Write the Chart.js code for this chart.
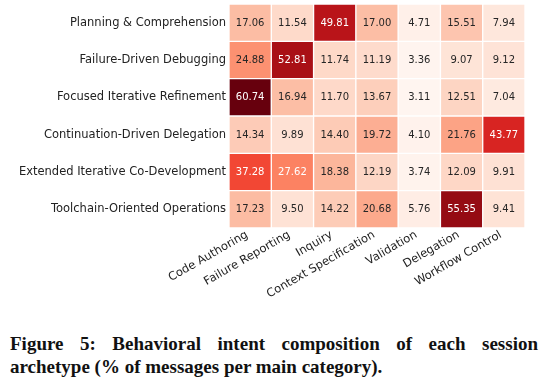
<!DOCTYPE html>
<html>
<head>
<meta charset="utf-8">
<script src="https://cdn.jsdelivr.net/npm/chart.js@4.4.0/dist/chart.umd.min.js"></script>
<style>
  body { margin: 0; background: #fff; width: 548px; height: 386px; overflow: hidden; }
  #wrap { position: relative; width: 548px; height: 322px; }
  .cap { font-family: "Liberation Serif", serif; font-weight: bold; font-size: 19px; color: #111;
         margin: 0 10px; line-height: 23px; white-space: nowrap; }
  .cap1 { margin-top: 10px; text-align: justify; text-align-last: justify; }
</style>
</head>
<body>
<div id="wrap"><canvas id="heat" width="548" height="322"></canvas></div>
<div class="cap cap1">Figure 5: Behavioral intent composition of each session</div>
<div class="cap">archetype (% of messages per main category).</div>
<script>
const archetypes = [
  'Planning & Comprehension',
  'Failure-Driven Debugging',
  'Focused Iterative Refinement',
  'Continuation-Driven Delegation',
  'Extended Iterative Co-Development',
  'Toolchain-Oriented Operations'
];
const intents = ['Code Authoring', 'Failure Reporting', 'Inquiry', 'Context Specification',
  'Validation', 'Delegation', 'Workflow Control'];
const planning     = [17.06, 11.54, 49.81, 17.00, 4.71, 15.51, 7.94];
const debugging    = [24.88, 52.81, 11.74, 11.19, 3.36, 9.07, 9.12];
const refinement   = [60.74, 16.94, 11.70, 13.67, 3.11, 12.51, 7.04];
const continuation = [14.34, 9.89, 14.40, 19.72, 4.10, 21.76, 43.77];
const codev        = [37.28, 27.62, 18.38, 12.19, 3.74, 12.09, 9.91];
const toolchain    = [17.23, 9.50, 14.22, 20.68, 5.76, 55.35, 9.41];
const matrix = [planning, debugging, refinement, continuation, codev, toolchain];

// matplotlib "Reds"
const REDS = ['#fff5f0', '#fee0d2', '#fcbba1', '#fc9272', '#fb6a4a', '#ef3b2c', '#cb181d', '#a50f15', '#67000d'];
const allVals = matrix.flat();
const vmin = Math.min(...allVals);
const vmax = Math.max(...allVals);

function hexRgb(h) {
  return [1, 3, 5].map((i) => parseInt(h.slice(i, i + 2), 16));
}
function redsRgb(v) {
  const t = Math.max(0, Math.min(1, (v - vmin) / (vmax - vmin))) * (REDS.length - 1);
  const i = Math.min(Math.floor(t), REDS.length - 2);
  const f = t - i;
  const a = hexRgb(REDS[i]), b = hexRgb(REDS[i + 1]);
  return a.map((c, k) => Math.round(c + (b[k] - c) * f));
}
function luminance(rgb) {
  const lin = rgb.map((c) => {
    c /= 255;
    return c <= 0.03928 ? c / 12.92 : Math.pow((c + 0.055) / 1.055, 2.4);
  });
  return 0.2126 * lin[0] + 0.7152 * lin[1] + 0.0722 * lin[2];
}

const datasets = matrix.map((row, i) => ({
  label: archetypes[i],
  data: row.map(() => [i, i + 1]),
  values: row,
  backgroundColor: row.map((v) => 'rgb(' + redsRgb(v).join(',') + ')'),
  borderColor: '#ffffff',
  borderWidth: 1,
  borderSkipped: false,
  barPercentage: 1,
  categoryPercentage: 1,
  grouped: false
}));

const cellLabels = {
  id: 'cellLabels',
  afterDatasetsDraw(chart) {
    const ctx = chart.ctx;
    ctx.save();
    ctx.font = '10px "DejaVu Sans"';
    ctx.textAlign = 'center';
    ctx.textBaseline = 'middle';
    chart.data.datasets.forEach((ds, di) => {
      chart.getDatasetMeta(di).data.forEach((el, j) => {
        const v = ds.values[j];
        ctx.fillStyle = luminance(redsRgb(v)) > 0.408 ? '#262626' : '#ffffff';
        ctx.fillText(v.toFixed(2), el.x, (el.y + el.base) / 2 + 0.5);
      });
    });
    ctx.restore();
  }
};

new Chart(document.getElementById('heat'), {
  type: 'bar',
  data: { labels: intents, datasets },
  plugins: [cellLabels],
  options: {
    responsive: false,
    animation: false,
    layout: { padding: { top: 4, right: 23, left: 0, bottom: 0 } },
    plugins: { legend: { display: false }, tooltip: { enabled: false } },
    scales: {
      x: {
        type: 'category',
        grid: { display: false, drawTicks: false },
        border: { display: false },
        afterFit: (axis) => { axis.height = 94; axis.paddingLeft = 0; axis.paddingRight = 0; },
        ticks: {
          color: '#222',
          font: { family: 'DejaVu Sans', size: 11.5 },
          minRotation: 30,
          maxRotation: 30,
          autoSkip: false,
          labelOffset: -3,
          padding: 0
        }
      },
      y: {
        type: 'linear',
        min: 0,
        max: archetypes.length,
        reverse: true,
        grid: { display: false, drawTicks: false },
        border: { display: false },
        afterFit: (axis) => { axis.width = 229; axis.paddingTop = 0; axis.paddingBottom = 0; },
        afterBuildTicks: (axis) => {
          axis.ticks = archetypes.map((_, i) => ({ value: i + 0.5 }));
        },
        ticks: {
          color: '#222',
          font: { family: 'DejaVu Sans', size: 11.5 },
          padding: 3,
          callback: (v) => archetypes[Math.floor(v)]
        }
      }
    }
  }
});
</script>
</body>
</html>
